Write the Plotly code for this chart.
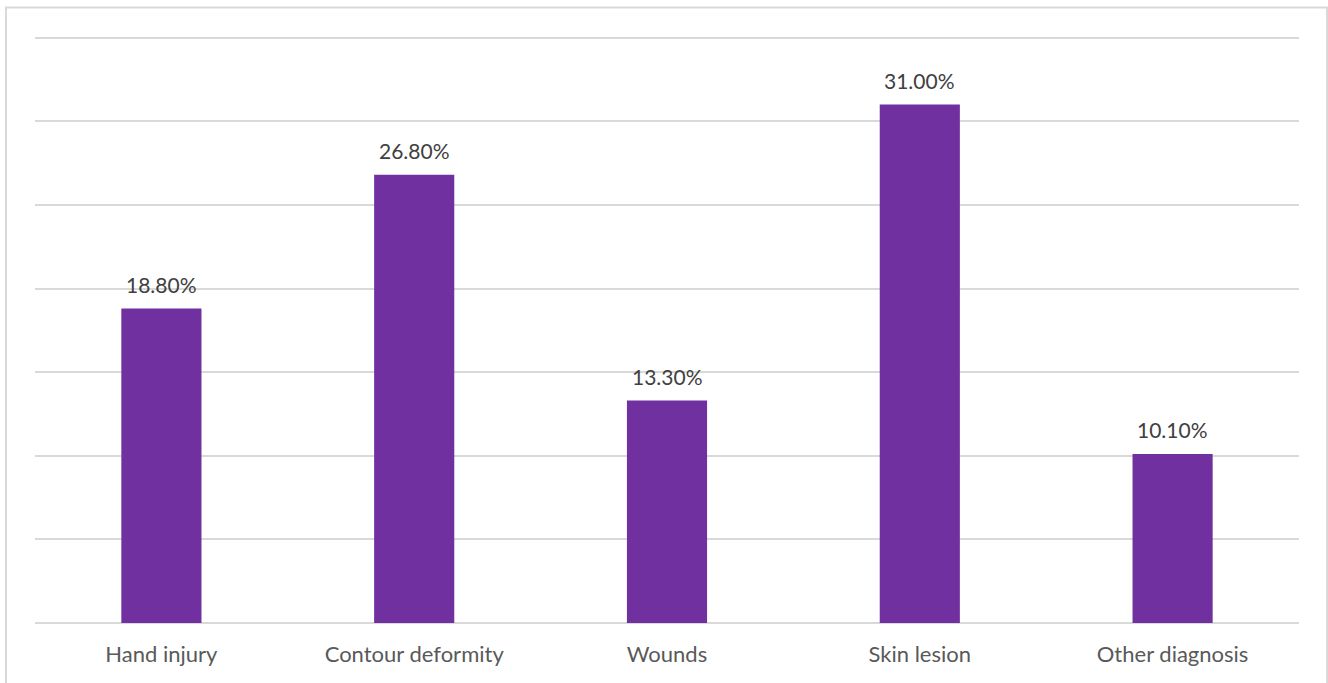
import plotly.graph_objects as go

categories = ["Hand injury", "Contour deformity", "Wounds", "Skin lesion", "Other diagnosis"]
values = [18.8, 26.8, 13.3, 31.0, 10.1]
labels = ["18.80%", "26.80%", "13.30%", "31.00%", "10.10%"]

W, H = 1328, 683
ml, mr, mt, mb = 35, 29, 36, 60
pw = W - ml - mr
ph = H - mt - mb
ymax = 35.1

fig = go.Figure(go.Bar(x=categories, y=values, marker_color="#7030A0",
                       marker_line_width=0, hoverinfo="skip"))

for c, v, t in zip(categories, values, labels):
    fig.add_annotation(x=c, y=v, text=t, showarrow=False, yanchor="bottom",
                       yshift=10, font=dict(family="Lato", size=21, color="#404040"))

# outer chart border
fig.add_shape(type="rect", xref="paper", yref="paper",
              x0=(6 - ml) / pw, x1=(1327 - ml) / pw,
              y0=-0.3, y1=(H - mb - 7.5) / ph,
              line=dict(color="#d9d9d9", width=2), layer="below")

fig.update_layout(
    width=W, height=H,
    margin=dict(l=ml, r=mr, t=mt, b=mb),
    paper_bgcolor="white", plot_bgcolor="white",
    bargap=0.683,
    showlegend=False,
    xaxis=dict(showgrid=False, showline=False, ticks="", ticklabelstandoff=16,
               tickfont=dict(family="Lato", size=22, color="#595959")),
    yaxis=dict(range=[0, ymax], dtick=5, showticklabels=False, showgrid=True,
               gridcolor="#d9d9d9", gridwidth=1.5, zeroline=True,
               zerolinecolor="#d9d9d9", zerolinewidth=1.5, showline=False),
)

fig.write_html("out.html")
